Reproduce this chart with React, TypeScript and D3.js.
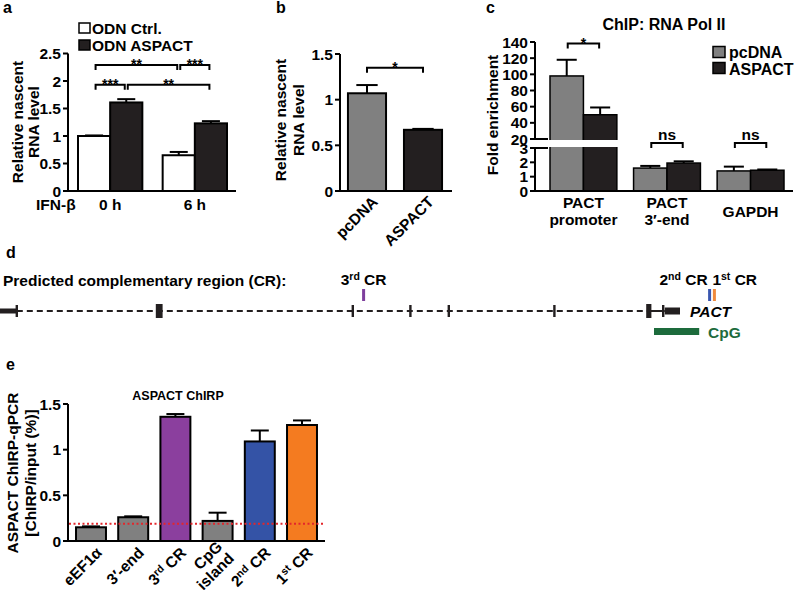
import React from "react";
import * as d3 from "d3";

const FONT = "'Liberation Sans', Arial, Helvetica, sans-serif";
const BLACK = "#231f20";
const GRAY = "#808080";
const FS = 15.5;

// ---------- Panel a ----------
const groupsA = ["0 h", "6 h"];
const seriesA = ["ODN Ctrl.", "ODN ASPACT"];
const ctrlA = [1.0, 0.65];
const ctrlErrA = [0.01, 0.06];
const aspactA = [1.61, 1.23];
const aspactErrA = [0.06, 0.04];
const ticksA = [0, 0.5, 1, 1.5, 2, 2.5];
const bracketsA = [
  { from: [0, 0], to: [0, 1], level: 1.93, label: "***" },
  { from: [0, 1], to: [1, 1], level: 1.93, label: "**" },
  { from: [0, 0], to: [1, 0], level: 2.29, label: "**" },
  { from: [1, 0], to: [1, 1], level: 2.29, label: "***" },
];

// ---------- Panel b ----------
const catsB = ["pcDNA", "ASPACT"];
const valsB = [1.07, 0.67];
const errB = [0.09, 0.01];
const ticksB = [0, 0.5, 1, 1.5];
const bracketB = { level: 1.35, label: "*" };

// ---------- Panel c ----------
const groupsC = ["PACT promoter", "PACT 3′-end", "GAPDH"];
const groupLinesC = [["PACT", "promoter"], ["PACT", "3′-end"], ["GAPDH"]];
const seriesC = ["pcDNA", "ASPACT"];
const pcdnaC = [98, 1.6, 1.4];
const pcdnaErrC = [20, 0.15, 0.3];
const aspactC = [50, 1.95, 1.45];
const aspactErrC = [9, 0.12, 0.05];
const ticksCLow = [0, 1, 2, 3];
const ticksCUp = [20, 40, 60, 80, 100, 120, 140];
const sigC = ["*", "ns", "ns"];
const sigLevelC = [138, 3.35, 3.35];

// ---------- Panel d ----------
const exonPosD = [2.1, 19.9, 44.1, 51.3, 56.1, 69.3, 81.1, 82.9];
const exonWidthD = [0.3, 0.85, 0.3, 0.3, 0.3, 0.3, 0.65, 0.3];
const exonBigD = [false, true, false, false, false, false, true, false];
const crNamesD = ["3rd", "2nd", "1st"];
const crPosD = [45.45, 88.7, 89.3];
const crColorsD = ["#7e3f9d", "#3a57b0", "#f08a3c"];
const cpgD = [81.75, 87.4];
const utrD = [83.1, 85.0];
const leftUtrD = [0, 2.1];

// ---------- Panel e ----------
const catsE = ["eEF1α", "3′-end", "3rd CR", "CpG island", "2nd CR", "1st CR"];
const valsE = [0.15, 0.26, 1.36, 0.22, 1.09, 1.27];
const errE = [0.01, 0.01, 0.03, 0.09, 0.12, 0.05];
const colorsE = [GRAY, GRAY, "#8b3f9e", GRAY, "#3453a6", "#f47b20"];
const ticksE = [0, 0.5, 1, 1.5];
const threshE = 0.19;

const fmt = (t: number) => String(t);

function YAxis({ x, scale, ticks, top, bottom }: any) {
  return (
    <g>
      <line x1={x} x2={x} y1={bottom + 1} y2={top} stroke="#000" strokeWidth={2} />
      {ticks.map((t: number) => (
        <g key={t}>
          <line x1={x - 5} x2={x} y1={scale(t)} y2={scale(t)} stroke="#000" strokeWidth={2} />
          <text x={x - 7} y={scale(t)} dy="0.36em" textAnchor="end" fontSize={FS}>
            {fmt(t)}
          </text>
        </g>
      ))}
    </g>
  );
}

function ErrBar({ cx, y0, y1, cap }: any) {
  return (
    <g stroke="#000" strokeWidth={2}>
      <line x1={cx} x2={cx} y1={y0} y2={y1} />
      <line x1={cx - cap} x2={cx + cap} y1={y1} y2={y1} />
    </g>
  );
}

function Bracket({ x1, x2, y, drop = 5, label, size = 14, labelDy = 4 }: any) {
  return (
    <g>
      <path d={`M${x1},${y + drop}V${y}H${x2}V${y + drop}`} fill="none" stroke="#000" strokeWidth={2} />
      <text x={(x1 + x2) / 2} y={y + labelDy} textAnchor="middle" fontSize={size}>
        {label}
      </text>
    </g>
  );
}

function RotLabel({ x, y, lines }: any) {
  return (
    <text transform={`translate(${x},${y}) rotate(-90)`} textAnchor="middle" fontSize={FS}>
      {lines}
    </text>
  );
}

function SupLabel({ text, supSize = 10.5 }: any) {
  const m = text.match(/^(\d)(st|nd|rd)( CR)$/);
  if (!m) return <>{text}</>;
  return (
    <>
      <tspan>{m[1]}</tspan>
      <tspan dy={-5} fontSize={supSize}>{m[2]}</tspan>
      <tspan dy={5}>{m[3]}</tspan>
    </>
  );
}

function PanelA() {
  const y = d3.scaleLinear().domain([0, 2.5]).range([191, 53.5]);
  const x0 = d3.scaleBand().domain(groupsA).range([78, 227]).paddingInner(0.24);
  const x1 = d3.scaleBand().domain(seriesA).range([0, x0.bandwidth()]);
  const series = [
    { vals: ctrlA, err: ctrlErrA, fill: "#fff" },
    { vals: aspactA, err: aspactErrA, fill: BLACK },
  ];
  const cx = (g: number, s: number) => (x0(groupsA[g]) as number) + (x1(seriesA[s]) as number) + x1.bandwidth() / 2;
  const bw = x1.bandwidth();
  return (
    <g>
      <text x={3} y={13} fontSize={16}>a</text>
      {seriesA.map((s, i) => (
        <g key={s}>
          <rect x={79} y={23 + i * 17} width={11} height={10} fill={series[i].fill} stroke="#000" strokeWidth={1.5} />
          <text x={92} y={33.5 + i * 17} fontSize={FS}>{s}</text>
        </g>
      ))}
      {groupsA.map((g, gi) =>
        series.map((s, si) => {
          const v = s.vals[gi];
          const bx = (x0(g) as number) + (x1(seriesA[si]) as number);
          return (
            <g key={g + si}>
              <ErrBar cx={bx + bw / 2} y0={y(v)} y1={y(v + s.err[gi])} cap={bw * 0.28} />
              <rect x={bx} y={y(v)} width={bw} height={y(0) - y(v)} fill={s.fill} stroke="#000" strokeWidth={2} />
            </g>
          );
        })
      )}
      <line x1={67} x2={236} y1={y(0)} y2={y(0)} stroke="#000" strokeWidth={2} />
      <YAxis x={68} scale={y} ticks={ticksA} top={y(2.5)} bottom={y(0)} />
      {bracketsA.map((b, i) => (
        <Bracket key={i} x1={cx(b.from[0], b.from[1]) + 1.5} x2={cx(b.to[0], b.to[1]) - 1.5} y={y(b.level)} label={b.label} />
      ))}
      <text x={36} y={210} fontSize={FS}>IFN-β</text>
      {groupsA.map((g) => (
        <text key={g} x={(x0(g) as number) + x0.bandwidth() / 2} y={210} textAnchor="middle" fontSize={FS}>{g}</text>
      ))}
      <RotLabel x={23} y={122} lines="Relative nascent" />
      <RotLabel x={39} y={122} lines="RNA level" />
    </g>
  );
}

function PanelB() {
  const y = d3.scaleLinear().domain([0, 1.5]).range([191, 54]);
  const x = d3.scaleBand().domain(catsB).range([340, 450]).paddingInner(0.32).paddingOuter(0.142);
  const bw = x.bandwidth();
  const fills = [GRAY, BLACK];
  return (
    <g>
      <text x={276} y={13} fontSize={16}>b</text>
      {catsB.map((c, i) => {
        const bx = x(c) as number;
        return (
          <g key={c}>
            <ErrBar cx={bx + bw / 2} y0={y(valsB[i])} y1={y(valsB[i] + errB[i])} cap={bw * 0.28} />
            <rect x={bx} y={y(valsB[i])} width={bw} height={y(0) - y(valsB[i])} fill={fills[i]} stroke="#000" strokeWidth={2} />
            <text transform={`translate(${bx + bw / 2 + 4},${195}) rotate(-45)`} textAnchor="end" dy="0.71em" fontSize={FS}>{c}</text>
          </g>
        );
      })}
      <line x1={339} x2={452} y1={y(0)} y2={y(0)} stroke="#000" strokeWidth={2} />
      <YAxis x={340} scale={y} ticks={ticksB} top={y(1.5)} bottom={y(0)} />
      <Bracket x1={(x(catsB[0]) as number) + bw / 2} x2={(x(catsB[1]) as number) + bw / 2} y={y(bracketB.level)} label={bracketB.label} />
      <RotLabel x={286} y={120} lines="Relative nascent" />
      <RotLabel x={304} y={120} lines="RNA level" />
    </g>
  );
}

function PanelC() {
  const ax = 535;
  const yLow = d3.scaleLinear().domain([0, 3]).range([191, 148]);
  const yUp = d3.scaleLinear().domain([20, 140]).range([139, 42]);
  const yv = (v: number) => (v > 3 ? yUp(v) : yLow(v));
  const x0 = d3.scaleBand().domain(groupsC).range([550, 784]).paddingInner(0.2);
  const x1 = d3.scaleBand().domain(seriesC).range([0, x0.bandwidth()]);
  const bw = x1.bandwidth();
  const series = [
    { vals: pcdnaC, err: pcdnaErrC, fill: GRAY },
    { vals: aspactC, err: aspactErrC, fill: BLACK },
  ];
  return (
    <g>
      <text x={486} y={13} fontSize={16}>c</text>
      <text x={664} y={30} textAnchor="middle" fontSize={16}>ChIP: RNA Pol II</text>
      {groupsC.map((g, gi) =>
        series.map((s, si) => {
          const v = s.vals[gi];
          const bx = (x0(g) as number) + (x1(seriesC[si]) as number);
          return (
            <g key={g + si}>
              <ErrBar cx={bx + bw / 2} y0={yv(v)} y1={yv(v + s.err[gi])} cap={bw * 0.3} />
              <rect x={bx} y={yv(v)} width={bw} height={yLow(0) - yv(v)} fill={s.fill} stroke="#000" strokeWidth={1.5} />
            </g>
          );
        })
      )}
      <rect x={ax + 2} y={yUp(20) + 1} width={793 - ax} height={yLow(3) - yUp(20) - 2} fill="#fff" />
      <line x1={ax - 1} x2={793} y1={yLow(0)} y2={yLow(0)} stroke="#000" strokeWidth={2} />
      <YAxis x={ax} scale={yLow} ticks={ticksCLow} top={yLow(3)} bottom={yLow(0)} />
      <YAxis x={ax} scale={yUp} ticks={ticksCUp} top={yUp(140)} bottom={yUp(20) - 1} />
      <line x1={ax} x2={ax + 13} y1={yUp(20)} y2={yUp(20)} stroke="#000" strokeWidth={2} />
      <line x1={ax} x2={ax + 13} y1={yLow(3)} y2={yLow(3)} stroke="#000" strokeWidth={2} />
      {groupsC.map((g, gi) => {
        const c1 = (x0(g) as number) + bw / 2;
        const c2 = (x0(g) as number) + bw * 1.5;
        const lv = gi === 0 ? yUp(sigLevelC[gi]) : yLow(sigLevelC[gi]);
        const isStar = sigC[gi].startsWith("*");
        return (
          <Bracket key={g} x1={c1 + 1} x2={c2 - 1} y={lv} label={sigC[gi]} size={isStar ? 14 : FS} labelDy={isStar ? 4 : -3} />
        );
      })}
      {groupLinesC.map((lines, gi) => {
        const c = (x0(groupsC[gi]) as number) + x0.bandwidth() / 2;
        if (lines.length === 1)
          return <text key={gi} x={c} y={217} textAnchor="middle" fontSize={FS}>{lines[0]}</text>;
        return (
          <g key={gi}>
            <text x={c} y={208} textAnchor="middle" fontSize={FS}>{lines[0]}</text>
            <text x={c} y={225} textAnchor="middle" fontSize={FS}>{lines[1]}</text>
          </g>
        );
      })}
      {seriesC.map((s, i) => (
        <g key={s}>
          <rect x={713} y={46.5 + i * 16} width={12} height={11} fill={series[i].fill} stroke="#000" strokeWidth={1.5} />
          <text x={729} y={58 + i * 16.5} fontSize={16}>{s}</text>
        </g>
      ))}
      <RotLabel x={498} y={115} lines="Fold enrichment" />
    </g>
  );
}

function PanelD() {
  const x = d3.scaleLinear().domain([0, 100]).range([0, 800]);
  const ly = 311;
  return (
    <g>
      <text x={6} y={258} fontSize={16}>d</text>
      <text x={3} y={286} fontSize={FS}>Predicted complementary region (CR):</text>
      <rect x={x(leftUtrD[0])} y={ly - 2.5} width={x(leftUtrD[1]) - x(leftUtrD[0])} height={5} fill={BLACK} />
      <line x1={x(exonPosD[0])} x2={x(exonPosD[6])} y1={ly} y2={ly} stroke={BLACK} strokeWidth={2} strokeDasharray="6,4" />
      <line x1={x(exonPosD[6])} x2={x(utrD[0])} y1={ly} y2={ly} stroke={BLACK} strokeWidth={2} />
      {exonPosD.map((p, i) => {
        const w = x(exonWidthD[i]) - x(0);
        const h = exonBigD[i] ? 14 : 12;
        return <rect key={i} x={x(p) - w / 2} y={ly - h / 2} width={w} height={h} fill={BLACK} />;
      })}
      <rect x={x(utrD[0])} y={ly - 3.5} width={x(utrD[1]) - x(utrD[0])} height={7} fill={BLACK} />
      <text x={690} y={317} fontSize={FS} fontStyle="italic">PACT</text>
      <rect x={x(cpgD[0])} y={328} width={x(cpgD[1]) - x(cpgD[0])} height={7} fill="#1d6b3c" />
      <text x={708} y={338} fontSize={FS} fill="#1d6b3c">CpG</text>
      {crPosD.map((p, i) => (
        <rect key={i} x={x(p) - 1.5} y={289} width={3} height={12} fill={crColorsD[i]} />
      ))}
      <text x={x(crPosD[0])} y={285} textAnchor="middle" fontSize={FS}>
        <SupLabel text={`${crNamesD[0]} CR`} />
      </text>
      <text x={x(crPosD[1]) - 2} y={285} textAnchor="end" fontSize={FS}>
        <SupLabel text={`${crNamesD[1]} CR`} />
      </text>
      <text x={x(crPosD[2]) - 2} y={285} textAnchor="start" fontSize={FS}>
        <SupLabel text={`${crNamesD[2]} CR`} />
      </text>
    </g>
  );
}

function PanelE() {
  const y = d3.scaleLinear().domain([0, 1.5]).range([541, 404]);
  const x = d3.scaleBand().domain(catsE).range([68, 325]).paddingInner(0.29).paddingOuter(0.19);
  const bw = x.bandwidth();
  return (
    <g>
      <text x={6} y={370} fontSize={16}>e</text>
      <text x={178} y={400} textAnchor="middle" fontSize={12.5}>ASPACT ChIRP</text>
      {catsE.map((c, i) => {
        const bx = x(c) as number;
        const cx = bx + bw / 2;
        const parts = c.split(" ");
        const twoLine = c === "CpG island";
        return (
          <g key={c}>
            <ErrBar cx={cx} y0={y(valsE[i])} y1={y(valsE[i] + errE[i])} cap={bw * 0.3} />
            <rect x={bx} y={y(valsE[i])} width={bw} height={y(0) - y(valsE[i])} fill={colorsE[i]} stroke="#000" strokeWidth={2} />
            {twoLine ? (
              <g transform={`translate(${cx + 4},${546}) rotate(-45)`}>
                <text textAnchor="end" dy="0.15em" fontSize={FS}>{parts[0]}</text>
                <text textAnchor="end" dy="1.22em" fontSize={FS}>{parts[1]}</text>
              </g>
            ) : (
              <text transform={`translate(${cx + 4},${546}) rotate(-45)`} textAnchor="end" dy="0.71em" fontSize={FS}>
                <SupLabel text={c} />
              </text>
            )}
          </g>
        );
      })}
      <line x1={67} x2={325} y1={y(0)} y2={y(0)} stroke="#000" strokeWidth={2} />
      <YAxis x={68} scale={y} ticks={ticksE} top={y(1.5)} bottom={y(0)} />
      <line x1={69} x2={325} y1={y(threshE)} y2={y(threshE)} stroke="#e3262b" strokeWidth={2} strokeDasharray="2,2.5" />
      <RotLabel x={18} y={473} lines="ASPACT ChIRP-qPCR" />
      <RotLabel x={36} y={473} lines="[ChIRP/input (%)]" />
    </g>
  );
}

export default function App() {
  return (
    <svg
      width={800}
      height={590}
      style={{ position: "absolute", left: 0, top: 0, display: "block" }}
      fontFamily={FONT}
      fontWeight="bold"
    >
      <rect width={800} height={590} fill="#fff" />
      <PanelA />
      <PanelB />
      <PanelC />
      <PanelD />
      <PanelE />
    </svg>
  );
}
